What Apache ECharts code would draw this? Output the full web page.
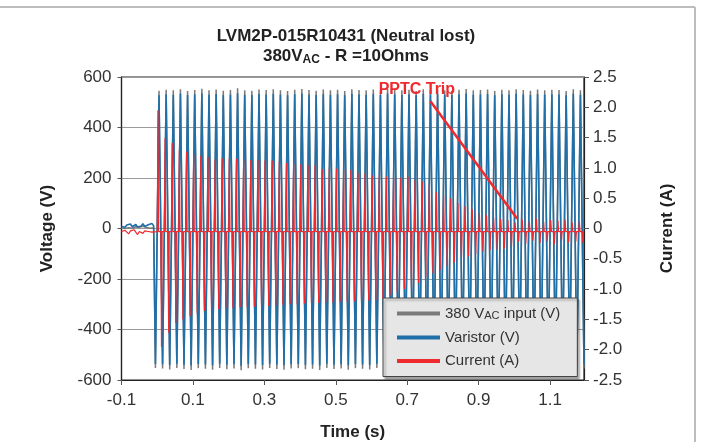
<!DOCTYPE html>
<html><head><meta charset="utf-8">
<script src="https://cdn.jsdelivr.net/npm/echarts@6/dist/echarts.min.js"></script>
<style>html,body{margin:0;padding:0;background:#fff}#c{width:701px;height:442px}</style>
</head><body><div id="c"></div>
<script>
// ---------- data ----------
const xTickLabels = ['-0.1', '0.1', '0.3', '0.5', '0.7', '0.9', '1.1'];
const period = 0.02;            // 50 Hz mains
const firstPeakTime = 0.005;    // first positive peak after the fault
const firstTroughTime = -0.005; // first negative swing at the fault
const currentBase = -0.05;      // current baseline between spikes (A)

const preTime = [-0.1,-0.095,-0.09,-0.085,-0.08,-0.075,-0.07,-0.065,-0.06,-0.055,-0.05,-0.045,-0.04,-0.035,-0.03,-0.025,-0.02,-0.015,-0.01];
const preVaristor = [8,12,5,14,9,18,7,11,16,6,13,10,19,8,12,15,9,20,11];
const preInput = [2,5,0,6,3,8,1,4,7,0,5,3,9,2,4,6,1,8,3];
const preCurrent = [-0.05,-0.08,-0.03,-0.06,-0.09,-0.04,-0.07,-0.02,-0.06,-0.1,-0.05,-0.03,-0.08,-0.04,-0.07,-0.05,-0.02,-0.06,-0.04];

const firstVaristorTrough = -537;
const firstInputTrough = -552;

const varistorPeaks = [528,532,530,534,529,531,535,530,533,528,531,536,530,529,533,531,534,530,528,532,535,531,529,533,530,532,528,534,531,530,533,529,535,531,530,532,528,534,531,533,530,529,532,535,530,531,533,528,532,530,534,531,529,533,530,532,531,528,534,530];
const varistorTroughs = [-538,-541,-536,-540,-543,-537,-539,-542,-536,-540,-538,-544,-537,-539,-541,-536,-540,-542,-538,-537,-541,-539,-543,-536,-540,-538,-542,-537,-539,-541,-536,-540,-543,-538,-537,-541,-539,-542,-536,-540,-538,-541,-537,-539,-543,-536,-540,-538,-542,-537,-539,-541,-536,-540,-538,-542,-537,-539,-541,-538];
const inputPeaks = [546,549,547,551,545,548,553,547,550,546,548,555,547,546,550,548,551,547,545,549,552,548,546,550,547,549,545,551,548,547,550,546,552,548,547,549,545,551,548,550,547,546,549,552,547,548,550,545,549,547,551,548,546,550,547,549,548,545,551,547];
const inputTroughs = [-554,-558,-552,-556,-560,-553,-555,-559,-552,-557,-554,-561,-553,-555,-558,-552,-556,-559,-554,-553,-557,-555,-560,-552,-556,-554,-559,-553,-555,-558,-552,-556,-560,-554,-553,-557,-555,-559,-552,-556,-554,-558,-553,-555,-560,-552,-556,-554,-559,-553,-555,-558,-552,-556,-554,-559,-553,-555,-558,-554];

const currentPos = [1.95,1.49,1.41,1.30,1.27,1.23,1.20,1.18,1.14,1.16,1.16,1.15,1.14,1.13,1.13,1.12,1.12,1.10,1.08,1.07,1.06,1.05,1.04,0.98,1.01,0.99,0.97,0.97,0.92,0.91,0.88,0.88,0.86,0.83,0.84,0.86,0.80,0.78,0.72,0.60,0.55,0.50,0.42,0.37,0.32,0.26,0.22,0.18,0.16,0.14,0.10,0.15,0.12,0.16,0.11,0.14,0.13,0.15,0.10,0.12];
const currentNeg = [-1.95,-1.72,-1.56,-1.50,-1.45,-1.40,-1.36,-1.34,-1.33,-1.32,-1.31,-1.30,-1.30,-1.29,-1.28,-1.28,-1.27,-1.26,-1.25,-1.25,-1.24,-1.23,-1.23,-1.22,-1.22,-1.21,-1.21,-1.20,-1.20,-1.19,-1.18,-1.16,-1.10,-1.05,-1.00,-0.97,-0.90,-0.80,-0.74,-0.68,-0.62,-0.56,-0.48,-0.46,-0.42,-0.38,-0.36,-0.35,-0.33,-0.30,-0.22,-0.25,-0.20,-0.24,-0.21,-0.26,-0.20,-0.23,-0.22,-0.24];

const tripArrowFrom = [0.765, 2.10];
const tripArrowTo = [1.008, 0.16];
const tripLabelAt = [0.727, 2.30];

const seriesNames = ['380 VAC input (V)', 'Varistor (V)', 'Current (A)'];

// ---------- build tables ----------
function buildVoltage(pre, firstTrough, peaks, troughs) {
  const d = preTime.map((t, k) => [t, pre[k]]);
  d.push([firstTroughTime, firstTrough]);
  peaks.forEach((p, i) => {
    const tp = firstPeakTime + i * period;
    d.push([tp, p]);
    d.push([tp + period / 2, troughs[i]]);
  });
  return d;
}
const inputData = buildVoltage(preInput, firstInputTrough, inputPeaks, inputTroughs);
const varistorData = buildVoltage(preVaristor, firstVaristorTrough, varistorPeaks, varistorTroughs);
const currentData = preTime.map((t, k) => [t, preCurrent[k]]);
const w = 0.0018;
currentPos.forEach((p, i) => {
  const tp = firstPeakTime - 0.003 + i * period;
  const tn = tp + period / 2;
  currentData.push([tp - w, currentBase], [tp, p], [tp + w, currentBase]);
  currentData.push([tn - w, currentBase], [tn, currentNeg[i]], [tn + w, currentBase]);
});

// ---------- chart ----------
const FONT = 'Liberation Sans, Arial, sans-serif';
const chart = echarts.init(document.getElementById('c'), null, {renderer: 'canvas'});
chart.setOption({
  animation: false,
  backgroundColor: '#fff',
  textStyle: {fontFamily: FONT},
  title: {
    left: 341, top: 21, textAlign: 'center',
    text: '{b|LVM2P-015R10431 (Neutral lost)}\n{b|380V}{sub|AC}{b| - R =10Ohms}',
    textStyle: {
      rich: {
        b: {fontSize: 17, fontWeight: 'bold', color: '#222', lineHeight: 20, fontFamily: FONT},
        sub: {fontSize: 12, fontWeight: 'bold', color: '#222', lineHeight: 7, verticalAlign: 'bottom', fontFamily: FONT}
      }
    }
  },
  graphic: [
    {type: 'line', shape: {x1: 0, y1: 7, x2: 695, y2: 7}, style: {stroke: '#bdbdbd', lineWidth: 2}, silent: true},
    {type: 'line', shape: {x1: 695, y1: 7, x2: 695, y2: 442}, style: {stroke: '#bdbdbd', lineWidth: 2}, silent: true}
  ],
  grid: {left: 121.5, right: 117, top: 77, bottom: 62, show: true, borderColor: '#222', borderWidth: 1.2, outerBoundsMode: 'none', containLabel: false},
  legend: {
    orient: 'vertical', left: 383, top: 298,
    data: seriesNames,
    icon: 'rect', itemWidth: 43, itemHeight: 4, itemGap: 8.5,
    backgroundColor: '#e6e6e6', borderColor: '#444', borderWidth: 1,
    shadowColor: 'rgba(0,0,0,0.35)', shadowOffsetX: 2, shadowOffsetY: 2, shadowBlur: 2,
    padding: [8, 17, 8, 14],
    formatter: n => n === seriesNames[0] ? '{t|380 V}{s|AC}{t| input (V)}' : '{t|' + n + '}',
    textStyle: {
      rich: {
        t: {fontSize: 15, color: '#333', lineHeight: 16, fontFamily: FONT},
        s: {fontSize: 11, color: '#333', lineHeight: 4, verticalAlign: 'bottom', fontFamily: FONT}
      }
    }
  },
  xAxis: {
    type: 'value', min: -0.1, max: 1.195, interval: 0.2,
    name: 'Time (s)', nameLocation: 'middle', nameGap: 44,
    nameTextStyle: {fontSize: 17, fontWeight: 'bold', color: '#222', fontFamily: FONT},
    axisLine: {show: true, onZero: false, lineStyle: {color: '#222', width: 1.2}},
    axisTick: {show: true, length: 5, lineStyle: {color: '#555'}},
    axisLabel: {
      fontSize: 17, color: '#333', margin: 12, fontFamily: FONT, showMaxLabel: false,
      formatter: v => {
        const s = v.toFixed(1);
        return xTickLabels.indexOf(s) >= 0 ? s : '';
      }
    },
    splitLine: {show: false}
  },
  yAxis: [
    {
      type: 'value', min: -600, max: 600, interval: 200, position: 'left',
      name: 'Voltage (V)', nameLocation: 'middle', nameGap: 66, nameRotate: 90,
      nameTextStyle: {fontSize: 17, fontWeight: 'bold', color: '#222', fontFamily: FONT},
      axisLine: {show: true, onZero: false, lineStyle: {color: '#222', width: 1.2}},
      axisTick: {show: true, length: 4, lineStyle: {color: '#555'}},
      axisLabel: {fontSize: 17, color: '#333', margin: 10, fontFamily: FONT},
      splitLine: {show: true, lineStyle: {color: '#9a9a9a', width: 1.2}}
    },
    {
      type: 'value', min: -2.5, max: 2.5, interval: 0.5, position: 'right',
      name: 'Current (A)', nameLocation: 'middle', nameGap: 75, nameRotate: 90,
      nameTextStyle: {fontSize: 17, fontWeight: 'bold', color: '#222', fontFamily: FONT},
      axisLine: {show: true, onZero: false, lineStyle: {color: '#222', width: 1.2}},
      axisTick: {show: true, length: 5, lineStyle: {color: '#555'}},
      axisLabel: {fontSize: 17, color: '#333', margin: 9, fontFamily: FONT,
        formatter: v => v === 0 ? '0' : v.toFixed(1)},
      splitLine: {show: false}
    }
  ],
  series: [
    {name: seriesNames[0], type: 'line', yAxisIndex: 0, data: inputData, showSymbol: false, symbol: 'none',
      lineStyle: {color: '#7a7a7a', width: 1.5}, itemStyle: {color: '#7a7a7a'}, z: 2},
    {name: seriesNames[1], type: 'line', yAxisIndex: 0, data: varistorData, showSymbol: false, symbol: 'none',
      lineStyle: {color: '#1f6fa8', width: 1.6}, itemStyle: {color: '#1f6fa8'}, z: 3},
    {name: seriesNames[2], type: 'line', yAxisIndex: 1, data: currentData, showSymbol: false, symbol: 'none',
      lineStyle: {color: '#ee2a2f', width: 1.2}, itemStyle: {color: '#ee2a2f'}, z: 4,
      markLine: {
        silent: true, symbol: ['none', 'none'], animation: false,
        lineStyle: {color: '#ee2a2f', width: 2.5, type: 'solid'},
        label: {show: false},
        data: [[{coord: tripArrowFrom}, {coord: tripArrowTo}]]
      },
      markPoint: {
        silent: true, symbol: 'rect', symbolSize: 1, itemStyle: {color: 'rgba(0,0,0,0)'},
        label: {show: true, position: 'inside', formatter: 'PPTC Trip', fontSize: 16, fontWeight: 'bold', color: '#ee2a2f', fontFamily: FONT},
        data: [{coord: tripLabelAt}]
      }
    }
  ]
});
</script></body></html>
